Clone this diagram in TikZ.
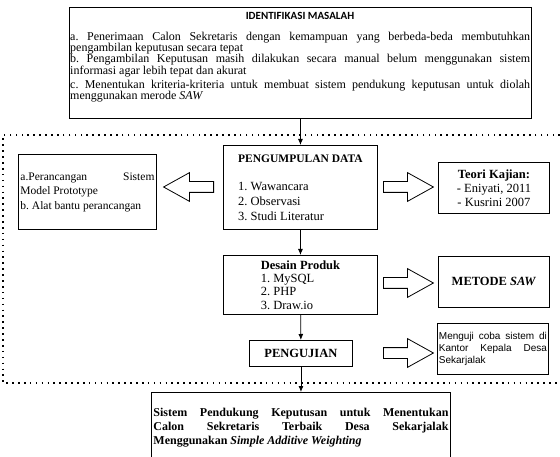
\documentclass[tikz,border=0pt]{standalone}
\usepackage{fontspec}
\setmainfont{Liberation Serif}
\setsansfont{Liberation Sans}
\newfontfamily\calibri{Carlito}
\usetikzlibrary{shapes.arrows, arrows.meta}

\begin{document}
\begin{tikzpicture}[x=1pt, y=-1pt,
        >={Latex[length=6pt, width=5pt]},
        kotak/.style={draw, line width=0.9pt, inner sep=1pt},
        panah/.style={draw, line width=0.8pt, single arrow,
            minimum height=50pt, minimum width=28pt,
            single arrow head extend=9pt, single arrow tip angle=58,
            inner xsep=0pt, inner ysep=5pt, anchor=tail},
        titik/.style={line width=1.6pt, dash pattern=on 1.6pt off 4.3pt}]
        \clip (0,0) rectangle (560,457);
        % identifikasi masalah
        \node (masalah) [kotak, anchor=north west,
            minimum width=462pt, minimum height=111pt] at (69,7) {};
        \node (judul) [font=\calibri\bfseries\fontsize{11}{11}\selectfont]
            at (300,16) {IDENTIFIKASI MASALAH};
        \node (rumusan) [anchor=north west, inner sep=1pt,
            text width=460pt, align=justify,
            font=\fontsize{12}{11}\selectfont] at (69,31)
        {a.\ Penerimaan Calon Sekretaris dengan kemampuan yang berbeda-beda membutuhkan\linebreak pengambilan keputusan secara tepat\\
        b.\ Pengambilan Keputusan masih dilakukan secara manual belum menggunakan sistem\linebreak informasi agar lebih tepat dan akurat\\[3pt]
        c.\ Menentukan kriteria-kriteria untuk membuat sistem pendukung keputusan untuk diolah\linebreak menggunakan merode {\itshape SAW}};
        \draw[titik] (560,135) -- (3,135) -- (3,383) -- (560,383);
        % kolom tengah
        \node (data) [kotak, anchor=north west,
            minimum width=154pt, minimum height=84pt, align=left,
            font=\fontsize{12.5}{15}\selectfont] at (223,145)
        {{\fontsize{11.5}{15}\selectfont\textbf{PENGUMPULAN DATA}}\\[13pt]
        1.\ Wawancara\\ 2.\ Observasi\\ 3.\ Studi Literatur};
        \node (desain) [kotak, anchor=north west,
            minimum width=154pt, minimum height=59pt, align=left,
            font=\fontsize{12.5}{13.3}\selectfont] at (223,255)
        {\textbf{Desain Produk}\\ 1.\ MySQL\\ 2.\ PHP\\ 3.\ Draw.io};
        \node (uji) [kotak, anchor=north west,
            minimum width=103pt, minimum height=26pt,
            font=\fontsize{12.5}{14}\selectfont] at (249,340)
        {\textbf{PENGUJIAN}};
        \node (hasil) [kotak, anchor=north west,
            text width=295pt, align=justify, inner xsep=2pt,
            minimum height=70pt,
            font=\fontsize{12}{14}\selectfont\bfseries] at (151,392)
        {Sistem Pendukung Keputusan untuk Menentukan\linebreak Calon Sekretaris Terbaik Desa Sekarjalak\linebreak Menggunakan \textit{Simple Additive Weighting}};
        % kolom kiri
        \node (rancang) [kotak, anchor=north west,
            text width=134pt, align=justify, inner xsep=2pt,
            minimum height=75pt,
            font=\fontsize{11.5}{14.5}\selectfont] at (18,154)
        {a.Perancangan Sistem\linebreak Model Prototype\\ b.\ Alat bantu perancangan};
        % kolom kanan
        \node (teori) [kotak, anchor=north west,
            minimum width=111pt, minimum height=51pt, align=center,
            font=\fontsize{12.5}{14}\selectfont] at (438,162)
        {\textbf{Teori Kajian:}\\ - Eniyati, 2011\\ - Kusrini 2007};
        \node (metode) [kotak, anchor=north west,
            minimum width=111pt, minimum height=51pt,
            font=\fontsize{12.5}{14}\selectfont] at (438,256)
        {\textbf{METODE \textit{SAW}}};
        \node (coba) [kotak, anchor=north west,
            text width=108pt, align=justify, inner xsep=1.5pt,
            minimum height=51pt,
            font=\sffamily\fontsize{10}{12}\selectfont] at (437,323)
        {Menguji coba sistem di\linebreak Kantor Kepala Desa\linebreak Sekarjalak};
        % panah blok
        \node (panahKiri) [panah, shape border rotate=180] at (214,187) {};
        \node (panahTeori) [panah] at (383,187) {};
        \node (panahMetode) [panah] at (383,283) {};
        \node (panahUji) [panah] at (383,353) {};
        % alur
        \draw[->, line width=0.8pt] (masalah) -- (data);
        \draw[->, line width=0.8pt] (data) -- (desain);
        \draw[->, line width=0.8pt] (desain) -- (uji);
        \draw[->, line width=0.8pt] (uji) -- (hasil);
    \end{tikzpicture}
\end{document}
